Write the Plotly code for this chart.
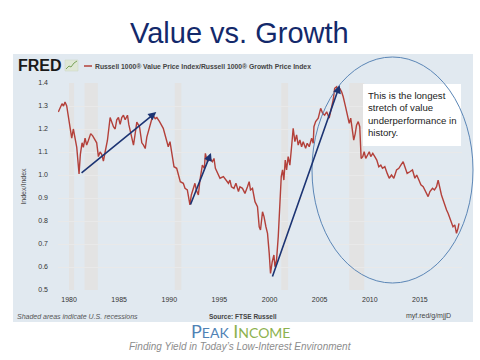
import plotly.graph_objects as go

# ---------------- data ----------------
years = [1978.93, 1979.1, 1979.3, 1979.45, 1979.6, 1979.77, 1979.93, 1980.1, 1980.27, 1980.43,
         1980.6, 1980.77, 1981.0, 1981.13, 1981.3, 1981.43, 1981.6, 1981.76, 1981.93, 1982.16,
         1982.36, 1982.6, 1982.76, 1982.93, 1983.1, 1983.26, 1983.43, 1983.6, 1983.83, 1984.1,
         1984.26, 1984.43, 1984.6, 1984.76, 1984.93, 1985.1, 1985.26, 1985.43, 1985.6, 1985.83,
         1985.96, 1986.1, 1986.26, 1986.43, 1986.6, 1986.76, 1987.03, 1987.26, 1987.43, 1987.6,
         1987.76, 1988.03, 1988.2, 1988.36, 1988.6, 1988.76, 1989.03,
         1989.4, 1989.67, 1989.9, 1990.07, 1990.2, 1990.47, 1990.74, 1990.9, 1991.1, 1991.4,
         1991.57, 1991.8, 1992.06, 1992.2, 1992.4, 1992.56, 1992.7, 1992.9, 1993.06, 1993.3,
         1993.5, 1993.6, 1993.8, 1994.06, 1994.3, 1994.46, 1994.6, 1994.9, 1995.06, 1995.4,
         1995.7, 1995.9, 1996.05, 1996.2, 1996.45, 1996.65, 1996.9, 1997.05, 1997.3, 1997.55,
         1997.8, 1997.97, 1998.1, 1998.3, 1998.55, 1998.8, 1998.97, 1999.1, 1999.3, 1999.45,
         1999.64, 1999.8, 1999.97, 2000.1, 2000.27, 2000.44, 2000.54, 2000.7, 2000.87, 2000.97,
         2001.07, 2001.17, 2001.3, 2001.43, 2001.57, 2001.7, 2001.86, 2002.03, 2002.2, 2002.36,
         2002.53, 2002.7, 2002.86, 2003.03, 2003.2, 2003.36, 2003.6, 2003.76, 2003.96, 2004.2,
         2004.36, 2004.43, 2004.6, 2004.86, 2005.1, 2005.3, 2005.5, 2005.7, 2005.95, 2006.15,
         2006.35, 2006.5, 2006.7, 2006.85, 2007.0, 2007.19, 2007.35, 2007.58, 2007.78, 2007.95,
         2008.1, 2008.25, 2008.4, 2008.55, 2008.68, 2008.85, 2009.0, 2009.14, 2009.3, 2009.44,
         2009.6, 2009.78, 2009.95, 2010.1, 2010.3, 2010.5, 2010.7, 2010.9, 2011.1, 2011.27,
         2011.5, 2011.74, 2011.94, 2012.17, 2012.4, 2012.67, 2012.9, 2013.1, 2013.33, 2013.5,
         2013.73, 2014.0, 2014.26, 2014.5, 2014.68, 2014.9, 2015.1, 2015.33, 2015.6, 2015.82,
         2016.0, 2016.26, 2016.45, 2016.66, 2016.82, 2016.99, 2017.15, 2017.32, 2017.5, 2017.66,
         2017.82, 2017.99, 2018.15, 2018.3, 2018.48, 2018.65, 2018.8, 2018.9]
ratio = [1.274, 1.29, 1.31, 1.30, 1.317, 1.30, 1.25, 1.19, 1.16, 1.20,
         1.15, 1.12, 1.005, 1.09, 1.14, 1.12, 1.16, 1.13, 1.15, 1.18,
         1.17, 1.15, 1.14, 1.08, 1.10, 1.09, 1.06, 1.10, 1.15, 1.25,
         1.23, 1.21, 1.20, 1.24, 1.25, 1.22, 1.25, 1.26, 1.24, 1.26,
         1.22, 1.195, 1.16, 1.13, 1.18, 1.23, 1.21, 1.14, 1.13, 1.115,
         1.165, 1.21, 1.23, 1.26, 1.245, 1.25, 1.232,
         1.203, 1.16, 1.123, 1.145, 1.109, 1.036, 1.029, 1.0, 0.971, 0.964,
         0.942, 0.935, 0.87, 0.913, 0.942, 0.964, 0.935, 0.913, 0.978, 1.043,
         1.029, 1.094, 1.058, 1.072, 1.058, 1.072, 1.029, 1.0, 0.986, 0.993,
         0.978, 0.964, 0.978, 0.949, 0.942, 0.964, 0.928, 0.949, 0.942, 0.92,
         0.949, 0.971, 0.935, 0.942, 0.884, 0.862, 0.775, 0.761, 0.84, 0.819,
         0.775, 0.746, 0.659, 0.572, 0.623, 0.652, 0.601, 0.63, 0.732, 0.819,
         0.862, 0.993, 1.022, 0.978, 1.065, 1.022, 1.08, 1.043, 1.123, 1.203,
         1.145, 1.174, 1.13, 1.152, 1.123, 1.145, 1.116, 1.138, 1.123, 1.16,
         1.138, 1.21, 1.232, 1.247, 1.29, 1.268, 1.26, 1.275, 1.247, 1.29,
         1.326, 1.377, 1.384, 1.362, 1.377, 1.362, 1.34, 1.297, 1.254, 1.225,
         1.247, 1.196, 1.152, 1.18, 1.217, 1.232, 1.21, 1.072, 1.08, 1.101,
         1.072, 1.087, 1.101, 1.08, 1.094, 1.08, 1.065, 1.036, 1.043, 1.029,
         1.036, 1.007, 0.986, 1.0, 0.986, 1.022, 1.029, 1.043, 1.058, 1.036,
         1.007, 1.014, 1.022, 0.986, 1.0, 0.978, 0.957, 0.949, 0.928, 0.906,
         0.928, 0.942, 0.935, 0.949, 0.978, 0.942, 0.913, 0.891, 0.862, 0.848,
         0.833, 0.812, 0.79, 0.775, 0.783, 0.746, 0.768, 0.79]

# recessions (start, end)
rec_start = [1980.0, 1981.55, 1990.55, 2001.17, 2007.95]
rec_end = [1980.5, 1982.87, 1991.2, 2001.85, 2009.45]

# trend arrows (tail -> head)
arrow_x0 = [1981.1, 1992.06, 2000.24]
arrow_y0 = [1.004, 0.865, 0.552]
arrow_x1 = [1988.7, 1994.16, 2007.0]
arrow_y1 = [1.274, 1.096, 1.39]

x_ticks = [1980, 1985, 1990, 1995, 2000, 2005, 2010, 2015]
y_ticks = [0.5, 0.6, 0.7, 0.8, 0.9, 1.0, 1.1, 1.2, 1.3, 1.4]

# ---------------- figure ----------------
W, H = 480, 360
L, R, T, B = 58, 462, 83, 290
pw, ph = R - L, B - T


def px(x):
    return (x - L) / pw


def py(y):
    return (B - y) / ph


fig = go.Figure()
fig.add_trace(go.Scatter(x=years, y=ratio, mode="lines",
                         line=dict(color="#b3403a", width=1.4),
                         hoverinfo="skip", showlegend=False))

shapes = []
# FRED panel background
shapes.append(dict(type="rect", xref="paper", yref="paper", layer="below",
                   x0=px(13), x1=px(473), y0=py(322), y1=py(54),
                   fillcolor="#e1e9f0", line=dict(width=0)))
for s, e in zip(rec_start, rec_end):
    shapes.append(dict(type="rect", xref="x", yref="paper", layer="between",
                       x0=s, x1=e, y0=0, y1=1,
                       fillcolor="#e3e3e3", line=dict(width=0)))
# white box behind the comment
shapes.append(dict(type="rect", xref="paper", yref="paper", layer="above",
                   x0=px(363), x1=px(461), y0=py(146), y1=py(84),
                   fillcolor="white", line=dict(width=0)))
# ellipse
shapes.append(dict(type="circle", xref="paper", yref="paper", layer="above",
                   x0=px(312), x1=px(473), y0=py(283), y1=py(57),
                   line=dict(color="#5b86b6", width=1)))
# legend red line
shapes.append(dict(type="line", xref="paper", yref="paper",
                   x0=px(84), x1=px(92), y0=py(66), y1=py(66),
                   line=dict(color="#b3403a", width=1.5)))
# small FRED chart icon
shapes.append(dict(type="rect", xref="paper", yref="paper",
                   x0=px(65), x1=px(78), y0=py(71), y1=py(60),
                   fillcolor="#dfe7d6", line=dict(color="#c8d4c0", width=0.5)))
shapes.append(dict(type="path", xref="paper", yref="paper",
                   path=f"M {px(66)},{py(69)} L {px(69)},{py(66)} L {px(71)},{py(67)} L {px(74)},{py(63)} L {px(77)},{py(61)}",
                   line=dict(color="#7aa35a", width=1)))

ann = []
for x0, y0, x1, y1 in zip(arrow_x0, arrow_y0, arrow_x1, arrow_y1):
    ann.append(dict(x=x1, y=y1, ax=x0, ay=y0, xref="x", yref="y", axref="x", ayref="y",
                    showarrow=True, arrowhead=2, arrowsize=1, arrowwidth=1.6,
                    arrowcolor="#1c3473", text=""))

ann.append(dict(text="Value vs. Growth", x=px(239), y=py(33), xref="paper", yref="paper",
                showarrow=False, xanchor="center", yanchor="middle",
                font=dict(family="Liberation Sans, Arial", size=29, color="#13296b")))
ann.append(dict(text="<b>FRED</b>", x=px(16), y=py(65), xref="paper", yref="paper",
                showarrow=False, xanchor="left", yanchor="middle",
                font=dict(family="Liberation Sans, Arial", size=16, color="#1a1a1a")))
ann.append(dict(text="<b>Russell 1000® Value Price Index/Russell 1000® Growth Price Index</b>",
                x=px(93), y=py(66), xref="paper", yref="paper",
                showarrow=False, xanchor="left", yanchor="middle",
                font=dict(family="Liberation Sans, Arial", size=6.8, color="#444444")))
ann.append(dict(text="This is the longest<br>stretch of value<br>underperformance in<br>history.",
                x=px(366), y=py(88), xref="paper", yref="paper", align="left",
                showarrow=False, xanchor="left", yanchor="top",
                font=dict(family="Liberation Sans, Arial", size=9.6, color="#222222")))
ann.append(dict(text="<i>Shaded areas indicate U.S. recessions</i>", x=px(15), y=py(316),
                xref="paper", yref="paper", showarrow=False, xanchor="left", yanchor="middle",
                font=dict(family="Liberation Sans, Arial", size=7, color="#555555")))
ann.append(dict(text="<b>Source: FTSE Russell</b>", x=px(243), y=py(316),
                xref="paper", yref="paper", showarrow=False, xanchor="center", yanchor="middle",
                font=dict(family="Liberation Sans, Arial", size=6.5, color="#444444")))
ann.append(dict(text="myf.red/g/mjjD", x=px(453), y=py(316),
                xref="paper", yref="paper", showarrow=False, xanchor="right", yanchor="middle",
                font=dict(family="Liberation Sans, Arial", size=7, color="#444444")))
ann.append(dict(text=("<span style='color:#4f82b5'>P<span style='font-size:14px'>EAK</span></span> "
                      "<span style='color:#8db24e'>I<span style='font-size:14px'>NCOME</span></span>"),
                x=px(240), y=py(331), xref="paper", yref="paper", showarrow=False,
                xanchor="center", yanchor="middle",
                font=dict(family="Lato, sans-serif", size=18, color="#4f82b5")))
ann.append(dict(text="<i>Finding Yield in Today’s Low-Interest Environment</i>",
                x=px(240), y=py(346), xref="paper", yref="paper", showarrow=False,
                xanchor="center", yanchor="middle",
                font=dict(family="Liberation Sans, Arial", size=10, color="#8c8c8c")))

fig.update_layout(
    width=W, height=H,
    margin=dict(l=L, r=W - R, t=T, b=H - B, pad=0),
    paper_bgcolor="white", plot_bgcolor="white",
    shapes=shapes, annotations=ann, showlegend=False,
    xaxis=dict(range=[1978.9, 2019.2], tickvals=x_ticks, ticktext=[str(v) for v in x_ticks],
               showgrid=False, zeroline=False, showline=False, ticks="",
               ticklabelstandoff=4,
               tickfont=dict(family="Liberation Sans, Arial", size=7, color="#333333")),
    yaxis=dict(range=[0.5, 1.4], tickvals=y_ticks, tickformat=".1f",
               showgrid=True, gridcolor="#e9e9e9", gridwidth=1, zeroline=False,
               showline=False, ticks="", ticklabelstandoff=9,
               title=dict(text="Index/Index", standoff=10,
                          font=dict(family="Liberation Sans, Arial", size=7, color="#444444")),
               tickfont=dict(family="Liberation Sans, Arial", size=7, color="#333333")),
)

fig.write_html("out.html", config={"displayModeBar": False},
               post_script="document.body.style.margin='0';")
